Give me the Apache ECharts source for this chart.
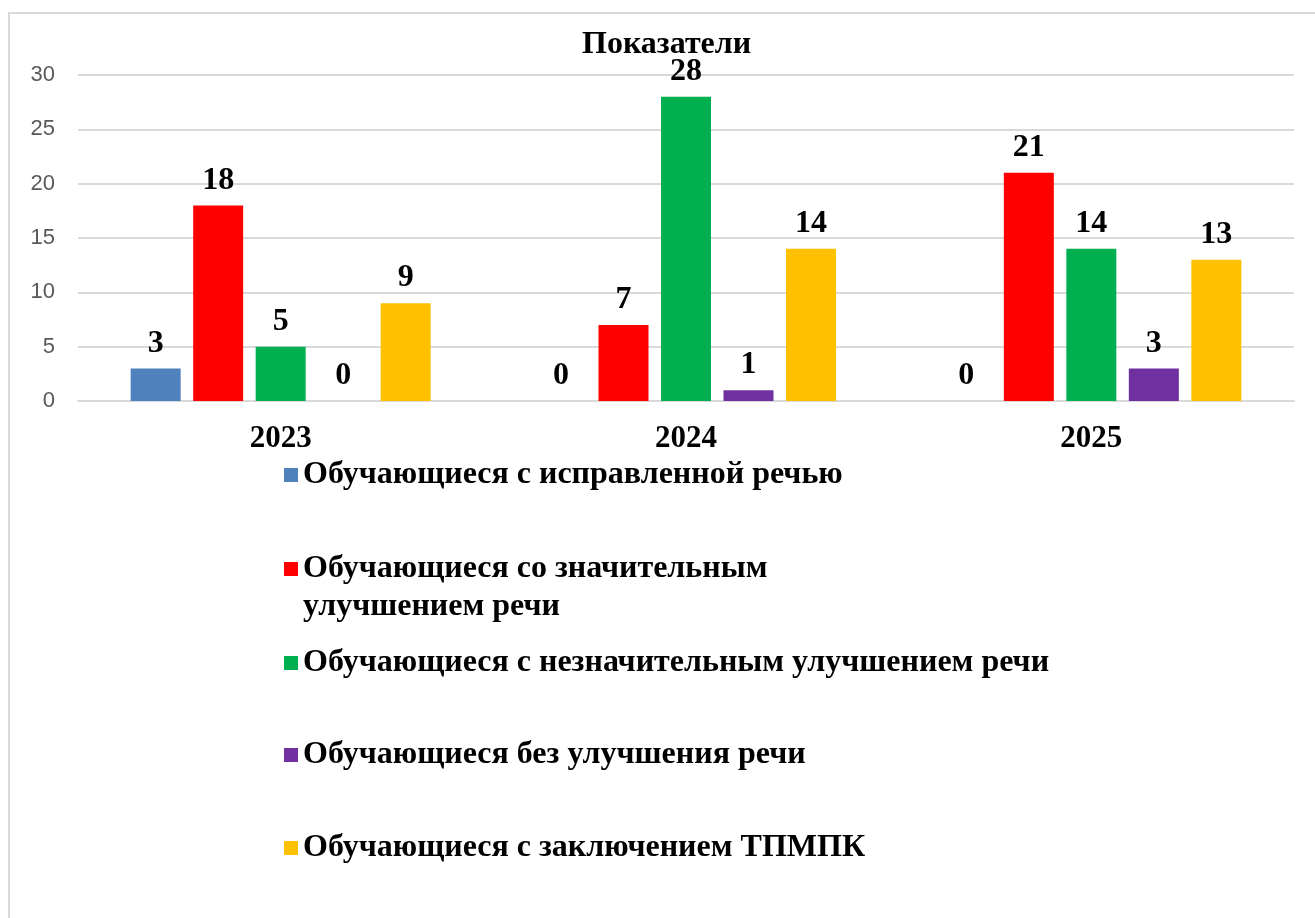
<!DOCTYPE html>
<html>
<head>
<meta charset="utf-8">
<script src="https://cdn.jsdelivr.net/npm/echarts@6/dist/echarts.min.js"></script>
<style>
  html, body { margin: 0; padding: 0; background: #fff; }
  #chart { width: 1315px; height: 918px; }
</style>
</head>
<body>
<div id="chart"></div>
<script>
const years = ['2023', '2024', '2025'];
const seriesNames = [
  'Обучающиеся с исправленной речью',
  'Обучающиеся со значительным улучшением речи',
  'Обучающиеся с незначительным улучшением речи',
  'Обучающиеся без улучшения речи',
  'Обучающиеся с заключением ТПМПК'
];
const corrected = [3, 0, 0];
const significant = [18, 7, 21];
const minor = [5, 28, 14];
const noImprovement = [0, 1, 3];
const tpmpk = [9, 14, 13];
const yTicks = [0, 5, 10, 15, 20, 25, 30];

const colors = ['#4F81BD', '#FF0000', '#00B050', '#7030A0', '#FFC000'];
const values = [corrected, significant, minor, noImprovement, tpmpk];
const serif = '"Liberation Serif", "Times New Roman", serif';

const chart = echarts.init(document.getElementById('chart'));

// one legend block per series so each can sit at its own height;
// the wrapped one gets a blank first line so the marker lines up with line 1
const legendTops = [456, 512, 644, 736, 829];
const legends = seriesNames.map((name, i) => ({
  orient: 'vertical',
  left: 284,
  top: legendTops[i],
  padding: 0,
  itemWidth: 14,
  itemHeight: 14,
  icon: 'rect',
  data: [name],
  selectedMode: false,
  formatter: i === 1 ? ' \nОбучающиеся со значительным\nулучшением речи' : '{name}',
  textStyle: {
    fontFamily: serif,
    fontWeight: 'bold',
    fontSize: 32,
    color: '#000',
    lineHeight: 38
  }
}));

const option = {
  animation: false,
  color: colors,
  title: {
    text: 'Показатели',
    left: 582,
    top: 29,
    padding: 0,
    textStyle: { fontFamily: serif, fontWeight: 'bold', fontSize: 32, color: '#000' }
  },
  graphic: [{
    type: 'rect',
    shape: { x: 9, y: 13, width: 1330, height: 930 },
    style: { fill: 'none', stroke: '#d9d9d9', lineWidth: 2 },
    silent: true
  }],
  legend: legends,
  grid: { left: 78, right: 21, top: 75, bottom: 517 },
  xAxis: {
    type: 'category',
    data: years,
    axisLine: { lineStyle: { color: '#d9d9d9', width: 2 } },
    axisTick: { show: false },
    axisLabel: {
      fontFamily: serif, fontWeight: 'bold', fontSize: 31, color: '#000', margin: 22
    }
  },
  yAxis: {
    type: 'value',
    min: yTicks[0],
    max: yTicks[yTicks.length - 1],
    interval: 5,
    axisLine: { show: false },
    axisTick: { show: false },
    splitLine: { lineStyle: { color: '#d9d9d9', width: 2 } },
    axisLabel: {
      fontFamily: '"Liberation Sans", Arial, sans-serif', fontSize: 22, color: '#595959', margin: 23
    }
  },
  series: seriesNames.map((name, i) => ({
    name: name,
    type: 'bar',
    data: values[i],
    barWidth: 50,
    barGap: '25%',
    label: {
      show: true,
      position: 'top',
      distance: 9,
      fontFamily: serif,
      fontWeight: 'bold',
      fontSize: 32,
      color: '#000'
    }
  }))
};

chart.setOption(option);
</script>
</body>
</html>
